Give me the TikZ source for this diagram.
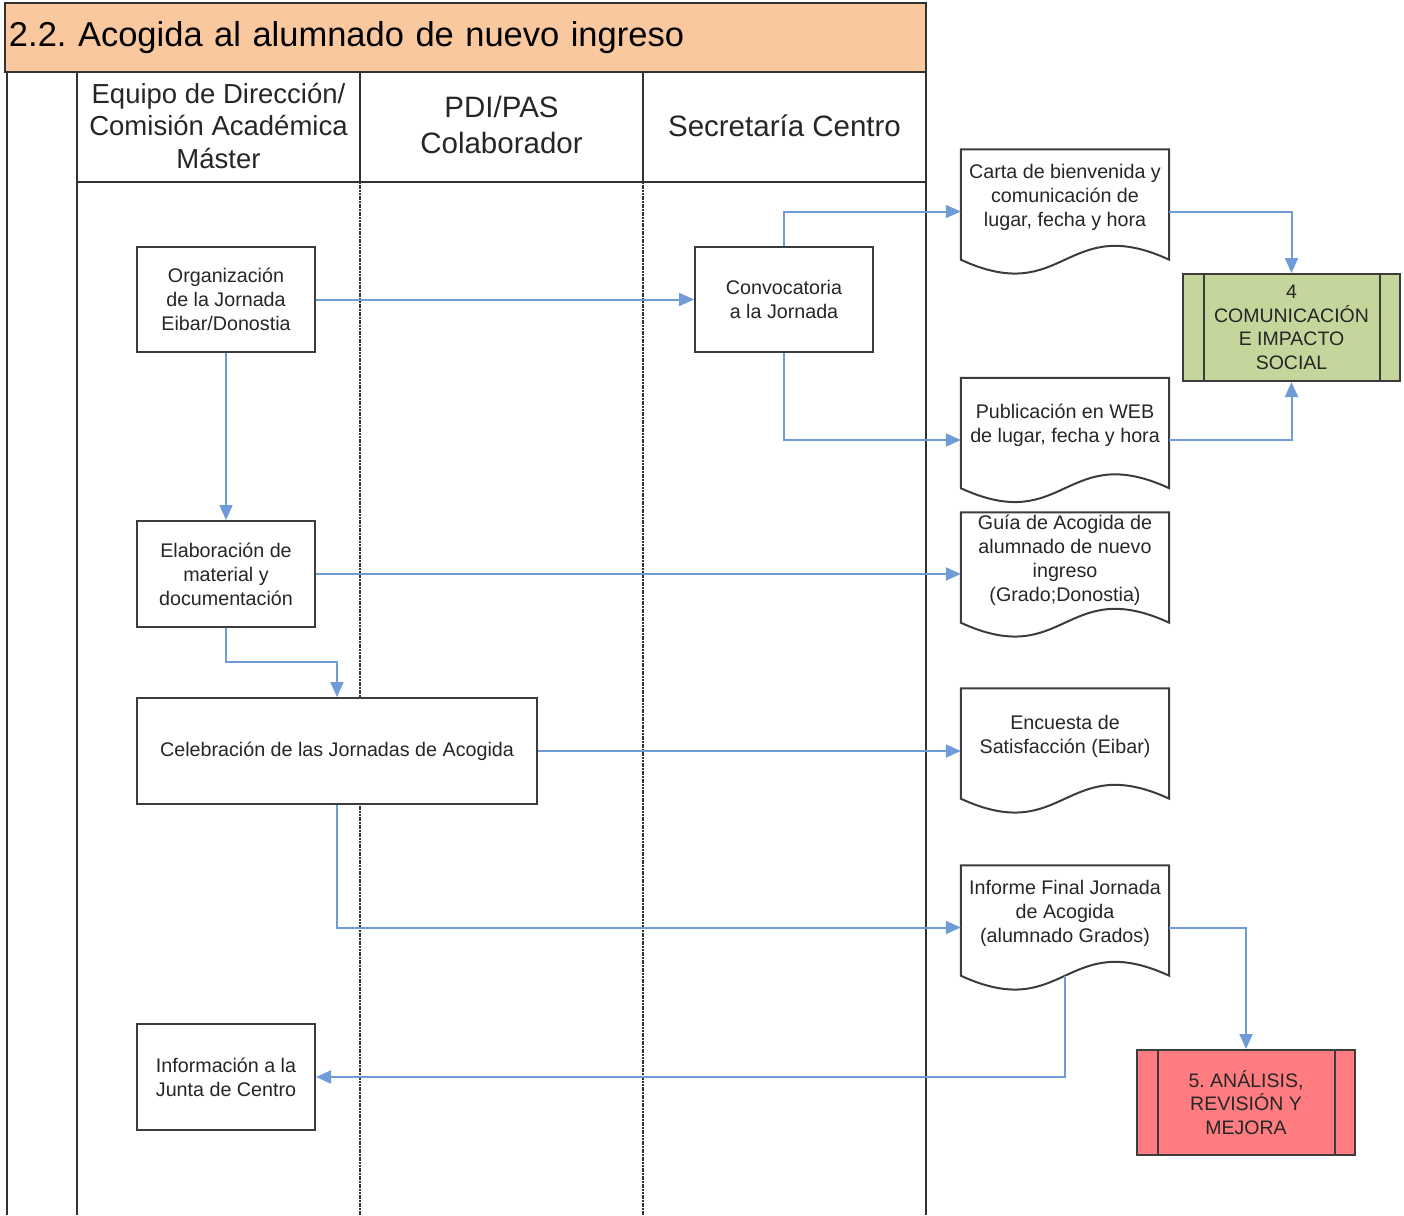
\documentclass[tikz,border=0pt]{standalone}
\usepackage{fontspec}
\setmainfont{Liberation Sans}
\usetikzlibrary{arrows.meta,calc}
\frenchspacing
\definecolor{peach}{RGB}{250,200,158}
\definecolor{flow}{RGB}{111,156,216}
\definecolor{framec}{RGB}{50,50,50}
\definecolor{greenproc}{RGB}{196,214,155}
\definecolor{redproc}{RGB}{255,124,128}
\definecolor{boxc}{RGB}{60,60,60}
\newcommand{\docshape}[1]{%
  \draw[docline] ($(#1.south west)+(0,-14)$) -- (#1.north west) -- (#1.north east) -- ($(#1.south east)+(0,-14)$)
    .. controls ($(#1.south)+(0,-62)$) and ($(#1.south)+(0,34)$) .. ($(#1.south west)+(0,-14)$) -- cycle;}
\newcommand{\procbars}[1]{%
  \draw[procline] ($(#1.north west)+(22,0)$) -- ($(#1.south west)+(22,0)$);
  \draw[procline] ($(#1.north east)+(-21,0)$) -- ($(#1.south east)+(-21,0)$);}
\begin{document}
\begin{tikzpicture}[x=1pt,y=-1pt,
  frameline/.style={draw=framec,line width=2pt},
  laneline/.style={draw=framec,line width=2pt,dash pattern=on 2pt off 0.7pt},
  boxfont/.style={font=\fontsize{19.7}{24}\selectfont,text=black!85},
  procbox/.style={draw=boxc,line width=2pt,fill=white,align=center,boxfont,inner sep=0pt},
  docbox/.style={draw=none,minimum width=208pt,minimum height=124pt,inner sep=0pt},
  doctext/.style={align=center,boxfont,inner sep=0pt,yshift=14.5pt},
  docline/.style={draw=boxc,line width=2pt},
  procline/.style={draw=boxc,line width=2pt},
  flowarrow/.style={draw=flow,line width=2pt,-{Triangle[length=15pt,width=13pt]}},
  headtext/.style={align=center,text=black!85,inner sep=0pt},
  titlebox/.style={draw=framec,line width=2pt,fill=peach,minimum width=921pt,minimum height=69pt,
    text width=913pt,inner xsep=4pt,inner ysep=0pt,align=left,font=\fontsize{34.5}{40}\selectfont,text=black}
]
\useasboundingbox (0,0) rectangle (1404,1215);

% title and swimlanes
\node[titlebox] (title) at (465.5,37.5) {2.2. Acogida al alumnado de nuevo ingreso};
\draw[frameline] (7,72) -- (7,1215);
\draw[frameline] (77,72) -- (77,1215);
\draw[frameline] (926,72) -- (926,1215);
\draw[frameline] (77,182) -- (926,182);
\draw[frameline] (360,72) -- (360,182);
\draw[frameline] (643,72) -- (643,182);
\draw[laneline] (360,182) -- (360,1215);
\draw[laneline] (643,182) -- (643,1215);

\node[headtext,font=\fontsize{27.5}{32.5}\selectfont] (h1) at (218.5,126) {Equipo de Dirección/\\Comisión Académica\\Máster};
\node[headtext,font=\fontsize{29.5}{36}\selectfont] (h2) at (501.5,125) {PDI/PAS\\Colaborador};
\node[headtext,font=\fontsize{29.5}{36}\selectfont] (h3) at (784.5,126) {Secretaría Centro};

% process boxes
\node[procbox,minimum width=178pt,minimum height=105pt] (org) at (226,299.5) {Organización\\de la Jornada\\Eibar/Donostia};
\node[procbox,minimum width=178pt,minimum height=105pt] (conv) at (784,299.5) {Convocatoria\\a la Jornada};
\node[procbox,minimum width=178pt,minimum height=106pt] (elab) at (226,574) {Elaboración de\\material y\\documentación};
\node[procbox,minimum width=400pt,minimum height=106pt] (celeb) at (337,751) {Celebración de las Jornadas de Acogida};
\node[procbox,minimum width=178pt,minimum height=106pt] (junta) at (226,1077) {Información a la\\Junta de Centro};

% documents
\node[docbox] (carta) at (1065,211.5) {};
\node[doctext] (cartat) at (carta.center) {Carta de bienvenida y\\comunicación de\\lugar, fecha y hora};
\node[docbox] (publ) at (1065,440) {};
\node[doctext] (publt) at (publ.center) {Publicación en WEB\\de lugar, fecha y hora};
\node[docbox] (guia) at (1065,574.5) {};
\node[doctext] (guiat) at (guia.center) {Guía de Acogida de\\alumnado de nuevo\\ingreso\\(Grado;Donostia)};
\node[docbox] (enc) at (1065,750.5) {};
\node[doctext] (enct) at (enc.center) {Encuesta de\\Satisfacción (Eibar)};
\node[docbox] (inf) at (1065,927.5) {};
\node[doctext] (inft) at (inf.center) {Informe Final Jornada\\de Acogida\\(alumnado Grados)};
\docshape{carta}
\docshape{publ}
\docshape{guia}
\docshape{enc}
\docshape{inf}

% predefined processes
\node[procbox,fill=greenproc,minimum width=217pt,minimum height=107pt,font=\fontsize{19.5}{23.7}\selectfont] (comm) at (1291.5,327.5) {4\\COMUNICACIÓN\\E IMPACTO\\SOCIAL};
\procbars{comm}
\node[procbox,fill=redproc,minimum width=218pt,minimum height=105pt,font=\fontsize{19.5}{23.7}\selectfont] (mejora) at (1246,1102.5) {5. ANÁLISIS,\\REVISIÓN Y\\MEJORA};
\procbars{mejora}

% connectors
\draw[flowarrow] (org.east) -- (conv.west);
\draw[flowarrow] (org.south) -- (elab.north);
\draw[flowarrow] (conv.north) |- (carta.west);
\draw[flowarrow] (conv.south) |- (publ.west);
\draw[flowarrow] (carta.east) -| (comm.north);
\draw[flowarrow] (publ.east) -| (comm.south);
\draw[flowarrow] (elab.east) -- (elab.east -| guia.west);
\draw[flowarrow] (elab.south) -- ++(0,34) -| (celeb.north);
\draw[flowarrow] (celeb.east) -- (celeb.east -| enc.west);
\draw[flowarrow] (celeb.south) |- (inf.west);
\draw[flowarrow] (inf.east) -| (mejora.north);
\draw[flowarrow] ($(inf.south)+(0,-14)$) |- (junta.east);
\end{tikzpicture}
\end{document}
